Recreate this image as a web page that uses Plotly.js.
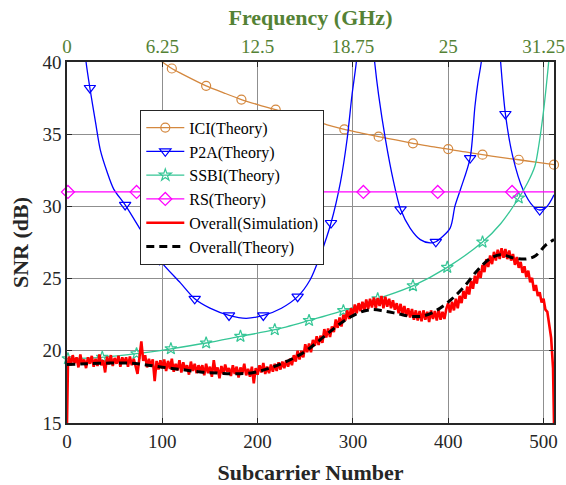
<!DOCTYPE html>
<html>
<head>
<meta charset="utf-8">
<script src="https://cdn.plot.ly/plotly-3.0.1.min.js"></script>
<style>
html,body{margin:0;padding:0;background:#fff;}
#chart{width:566px;height:485px;}
</style>
</head>
<body>
<div id="chart"></div>
<script>
// ---------------- data ----------------
const xTickVals = [0, 100, 200, 300, 400, 500];
const xTickText = ["0", "100", "200", "300", "400", "500"];
const freqTickVals = [0, 6.25, 12.5, 18.75, 25, 31.25];
const freqTickText = ["0", "6.25", "12.5", "18.75", "25", "31.25"];
const yTickVals = [15, 20, 25, 30, 35, 40];

// ICI(Theory)
const iciX = [98, 100, 110, 120, 146, 165, 183, 200, 219, 237, 255, 273, 291, 309, 327, 345, 363, 381, 400, 418, 436, 455, 474, 492, 511];
const iciY = [40.1, 40.0, 39.55, 39.2, 38.35, 37.85, 37.4, 37.05, 36.7, 36.35, 36.0, 35.65, 35.33, 35.08, 34.83, 34.6, 34.37, 34.15, 33.97, 33.77, 33.58, 33.4, 33.23, 33.06, 32.89];
const iciMarkX = [110, 146, 183, 219, 255, 291, 327, 363, 400, 436, 474, 511];
const iciMarkY = [39.55, 38.35, 37.4, 36.7, 36.0, 35.33, 34.83, 34.37, 33.97, 33.58, 33.23, 32.89];

// P2A(Theory)
const p2aX = [18, 20, 24, 30, 35, 42, 49, 61, 77, 97, 119, 134, 150, 170, 188, 206, 225, 242, 255, 266, 277, 287, 294, 299, 303.6, 306,
              null,
              320, 322.8, 327, 334, 342.7, 350, 360, 370.7, 381, 387, 402, 407, 413, 423, 428, 431, 434.7, 437,
              null,
              453, 455, 460, 467.7, 478.5, 489.3, 496, 503.7, 511];
const p2aY = [41.5, 40.0, 38.2, 35.8, 33.9, 32.4, 31.2, 30.1, 28.4, 26.3, 24.7, 23.6, 22.95, 22.45, 22.25, 22.45, 22.95, 23.75, 24.9, 26.65, 28.85, 31.7, 34.7, 37.7, 40.0, 42.0,
              null,
              42.0, 40.0, 37.7, 34.7, 31.7, 29.8, 28.5, 27.7, 27.47, 27.55, 28.5, 30.0, 31.2, 33.35, 36.9, 38.5, 40.0, 42.0,
              null,
              42.0, 40.0, 36.4, 33.46, 31.15, 30.0, 29.75, 30.0, 30.8];
const p2aMarkX = [24, 61, 97, 134, 170, 206, 242, 277, 350, 387, 423, 460, 496];
const p2aMarkY = [38.2, 30.1, 26.3, 23.6, 22.45, 22.45, 23.75, 28.85, 29.8, 27.55, 33.35, 36.4, 29.75];

// SSBI(Theory)
const ssbiX = [0, 36, 73, 109, 146, 182, 218, 254, 290, 326, 363, 399, 436, 455, 474, 483, 491, 495, 500, 503, 506, 508];
const ssbiY = [19.45, 19.55, 19.8, 20.14, 20.54, 21.0, 21.46, 22.1, 22.78, 23.6, 24.5, 25.78, 27.53, 28.8, 30.58, 31.6, 32.8, 34.2, 36.6, 38.4, 40.4, 42.0];
const ssbiMarkX = [1, 37, 73, 109, 146, 182, 218, 254, 290, 326, 363, 399, 436, 474];
const ssbiMarkY = [19.45, 19.55, 19.8, 20.14, 20.54, 21.0, 21.46, 22.1, 22.78, 23.6, 24.5, 25.78, 27.53, 30.58];

// RS(Theory)
const rsX = [0, 511];
const rsY = [31.0, 31.0];
const rsMarkX = [1, 73, 152, 232, 311, 389, 467];
const rsMarkY = [31.0, 31.0, 31.0, 31.0, 31.0, 31.0, 31.0];

// Overall(Simulation)
const simX = [0, 1,
  2, 4, 6, 8, 10, 12, 14, 16, 18, 20, 22, 24, 26, 28, 30, 32, 34, 36, 38, 40, 42, 44, 46, 48, 50, 52, 54, 56, 58, 60,
  62, 64, 66, 68, 70, 72, 74, 76, 78, 80, 82, 84, 86, 88, 90, 92, 94, 96, 98, 100,
  102, 104, 106, 108, 110, 112, 114, 116, 118, 120, 122, 124, 126, 128, 130, 132, 134, 136, 138, 140,
  142, 144, 146, 148, 150, 152, 154, 156, 158, 160, 162, 164, 166, 168, 170, 172, 174, 176, 178, 180, 182, 184, 186, 188, 190, 192, 194, 196, 198, 200, 202, 204, 206, 208, 210, 212, 214,
  216, 218, 220, 222, 224, 226, 228, 230, 232, 234, 236,
  238, 240, 242, 244, 246, 248, 250, 252, 254, 256, 258, 260, 262, 264, 266, 268, 270, 272, 274, 276, 278, 280, 282, 284, 286, 288, 290, 292, 294, 296, 298, 300,
  302, 304, 306, 308, 310, 312, 314, 316, 318, 320, 322, 324, 326, 328, 330, 332, 334, 336, 338, 340,
  342, 344, 346, 348, 350, 352, 354, 356, 358, 360, 362, 364, 366, 368, 370, 372, 374, 376, 378, 380, 382, 384, 386, 388, 390, 392, 394, 396, 398,
  400, 402, 404, 406, 408, 410, 412, 414, 416, 418, 420, 422, 424, 426, 428, 430, 432, 434, 436, 438, 440, 442, 444, 446, 448, 450, 452, 454, 456, 458, 460,
  462, 464, 466, 468, 470, 472, 474, 476, 478, 480, 482, 484, 486, 488, 490, 492, 494, 496, 498, 500, 502, 504, 506, 508, 510,
  511];
const simY = [15.0, 19.0,
  19.6, 19.0, 19.7, 19.15, 19.55, 18.85, 19.75, 19.05, 19.4, 18.8, 19.55, 19.1, 19.65, 18.9, 19.45, 18.95, 19.75, 19.0, 19.35, 18.5, 19.6, 19.05, 19.7, 18.95, 19.5, 19.1, 19.65, 18.9, 19.55, 19.15,
  19.55, 18.9, 19.6, 19.0, 19.45, 18.85, 18.4, 19.5, 20.65, 19.3, 19.7, 18.85, 19.45, 18.95, 19.4, 17.9, 19.3, 18.7, 19.35, 18.8,
  19.4, 18.6, 19.3, 18.75, 19.45, 18.55, 19.1, 18.65, 19.35, 18.5, 19.2, 18.7, 19.0, 18.35, 19.25, 18.6, 19.1, 18.45, 19.0, 18.6,
  19.0, 18.3, 19.1, 18.45, 18.9, 18.2, 19.35, 18.5, 18.85, 18.1, 18.95, 18.4, 19.05, 18.55, 18.8, 18.25, 19.0, 18.4, 18.9, 18.15, 18.85, 18.45, 19.1, 18.3, 18.75, 18.2, 18.9, 17.75, 18.8, 18.35, 19.0, 18.5, 19.15, 18.4, 18.9, 18.45, 19.05,
  18.55, 19.1, 18.6, 19.2, 18.7, 19.25, 18.8, 19.35, 18.9, 19.45, 19.0,
  19.7, 19.25, 20.0, 19.4, 20.0, 19.55, 20.45, 19.9, 20.5, 19.9, 20.75, 20.35, 21.0, 20.4, 21.05, 20.55, 21.5, 20.92, 21.54, 20.96, 21.68, 21.3, 22.17, 21.59, 22.31, 21.68, 22.5, 22.1, 22.8, 22.2, 22.95, 22.45,
  23.2, 22.6, 23.3, 22.75, 23.4, 22.8, 23.55, 22.9, 23.6, 23.0, 23.7, 22.95, 23.65, 23.1, 23.8, 22.95, 23.75, 23.05, 23.6, 22.95,
  23.5, 22.85, 23.3, 22.6, 23.25, 22.55, 23.1, 22.4, 22.95, 22.3, 22.9, 22.15, 22.8, 22.1, 22.75, 22.05, 22.8, 22.15, 22.7, 22.0, 22.8, 22.2, 22.75, 22.1, 22.85, 22.15, 22.7, 22.2, 22.9,
  23.3, 22.65, 23.4, 22.8, 23.6, 22.95, 23.8, 23.3, 24.15, 23.6, 24.45, 23.9, 24.85, 24.3, 25.2, 24.65, 25.55, 25.05, 25.95, 25.45, 26.35, 25.8, 26.6, 26.0, 26.85, 26.25, 27.0, 26.35, 27.1, 26.45, 27.05,
  26.35, 26.95, 26.25, 26.7, 25.95, 26.5, 25.75, 26.15, 25.4, 25.85, 25.1, 25.55, 24.75, 25.05, 24.15, 24.55, 23.8, 24.05, 23.35, 23.6, 22.85, 22.7, 21.7, 20.9, 18.8,
  15.0];

// Overall(Theory)
const thX = [0, 20, 45, 66, 80, 98, 120, 140, 160, 175, 196, 217, 238, 253, 270, 287, 305, 319, 333, 347, 361, 375, 389, 403, 417, 431, 445, 455, 469, 482, 492, 502, 511];
const thY = [19.05, 19.1, 19.15, 19.15, 19.05, 18.88, 18.7, 18.53, 18.45, 18.41, 18.5, 18.9, 19.5, 20.1, 21.0, 21.9, 22.6, 22.85, 22.75, 22.57, 22.38, 22.43, 22.85, 23.54, 24.46, 25.6, 26.43, 26.65, 26.43, 26.36, 26.6, 27.3, 27.7];

// ---------------- styles ----------------
const cICI = '#D4883F', cP2A = '#0000FF', cSSBI = '#36C696', cRS = '#FF00FF';
const lw = 1.3;

function lineTrace(x, y, color) {
  return {x: x, y: y, mode: 'lines', line: {color: color, width: lw, shape: 'spline', smoothing: 0.8},
          showlegend: false, hoverinfo: 'skip', connectgaps: false};
}
function markTrace(x, y, color, symbol, size) {
  return {x: x, y: y, mode: 'markers', marker: {symbol: symbol, size: size, color: color, line: {color: color, width: 1.2}},
          showlegend: false, hoverinfo: 'skip', cliponaxis: false};
}
function legendTrace(name, color, symbol, size) {
  return {x: [null], y: [null], name: name, mode: 'lines+markers', line: {color: color, width: lw},
          marker: {symbol: symbol, size: size, color: color, line: {color: color, width: 1.2}}};
}

const traces = [
  lineTrace(iciX, iciY, cICI), markTrace(iciMarkX, iciMarkY, cICI, 'circle-open', 9),
  lineTrace(p2aX, p2aY, cP2A), markTrace(p2aMarkX, p2aMarkY, cP2A, 'triangle-down-open', 10),
  lineTrace(ssbiX, ssbiY, cSSBI), markTrace(ssbiMarkX, ssbiMarkY, cSSBI, 'star-open', 9),
  lineTrace(rsX, rsY, cRS), markTrace(rsMarkX, rsMarkY, cRS, 'diamond-open', 10),
  legendTrace('ICI(Theory)', cICI, 'circle-open', 9),
  legendTrace('P2A(Theory)', cP2A, 'triangle-down-open', 10),
  legendTrace('SSBI(Theory)', cSSBI, 'star-open', 9),
  legendTrace('RS(Theory)', cRS, 'diamond-open', 10),
  {x: simX, y: simY, name: 'Overall(Simulation)', mode: 'lines', line: {color: '#FF0000', width: 2.6}, hoverinfo: 'skip'},
  {x: thX, y: thY, name: 'Overall(Theory)', mode: 'lines', line: {color: '#000000', width: 3, dash: '8px,5px', shape: 'spline'}, hoverinfo: 'skip'},
  {x: freqTickVals, y: freqTickVals.map(() => null), xaxis: 'x2', mode: 'lines', showlegend: false, hoverinfo: 'skip'}
];

const layout = {
  width: 566, height: 485,
  margin: {l: 67, r: 12, t: 62, b: 62, pad: 0},
  paper_bgcolor: '#ffffff', plot_bgcolor: '#ffffff',
  font: {family: 'Liberation Serif', size: 19, color: '#262626'},
  showlegend: true,
  xaxis: {
    range: [0, 511], tickvals: xTickVals, ticktext: xTickText, showgrid: true,
    showline: true, linecolor: '#262626', linewidth: 1.5,
    ticks: 'inside', ticklen: 5, tickwidth: 1, tickcolor: '#262626',
    gridcolor: '#8f8f8f', gridwidth: 1.4, zeroline: false,
    tickfont: {family: 'Liberation Serif', size: 19, color: '#262626'},
    title: {text: '<b>Subcarrier Number</b>', font: {family: 'Liberation Serif', size: 22, color: '#262626'}, standoff: 16}
  },
  xaxis2: {
    overlaying: 'x', side: 'top', range: [0, 31.9375], tickvals: freqTickVals, ticktext: freqTickText, showgrid: false,
    showline: true, linecolor: '#262626', linewidth: 1.5,
    ticks: 'inside', ticklen: 5, tickwidth: 1, tickcolor: '#262626', zeroline: false,
    tickfont: {family: 'Liberation Serif', size: 19, color: '#548235'},
    title: {text: '<b>Frequency (GHz)</b>', font: {family: 'Liberation Serif', size: 22, color: '#548235'}, standoff: 4}
  },
  yaxis: {
    range: [15, 40], tickvals: yTickVals, showgrid: true, mirror: 'ticks',
    showline: true, linecolor: '#262626', linewidth: 1.5,
    ticks: 'inside', ticklen: 5, tickwidth: 1, tickcolor: '#262626',
    gridcolor: '#8f8f8f', gridwidth: 1.4, zeroline: false,
    tickfont: {family: 'Liberation Serif', size: 19, color: '#262626'},
    title: {text: '<b>SNR (dB)</b>', font: {family: 'Liberation Serif', size: 22, color: '#262626'}, standoff: 8}
  },
  legend: {
    x: 0.1505, y: 0.868, xanchor: 'left', yanchor: 'top',
    bgcolor: '#ffffff', bordercolor: '#262626', borderwidth: 1,
    font: {family: 'Liberation Serif', size: 16, color: '#000000'},
    itemwidth: 38,
    tracegroupgap: 0
  }
};

Plotly.newPlot('chart', traces, layout, {displayModeBar: false});
</script>
</body>
</html>
